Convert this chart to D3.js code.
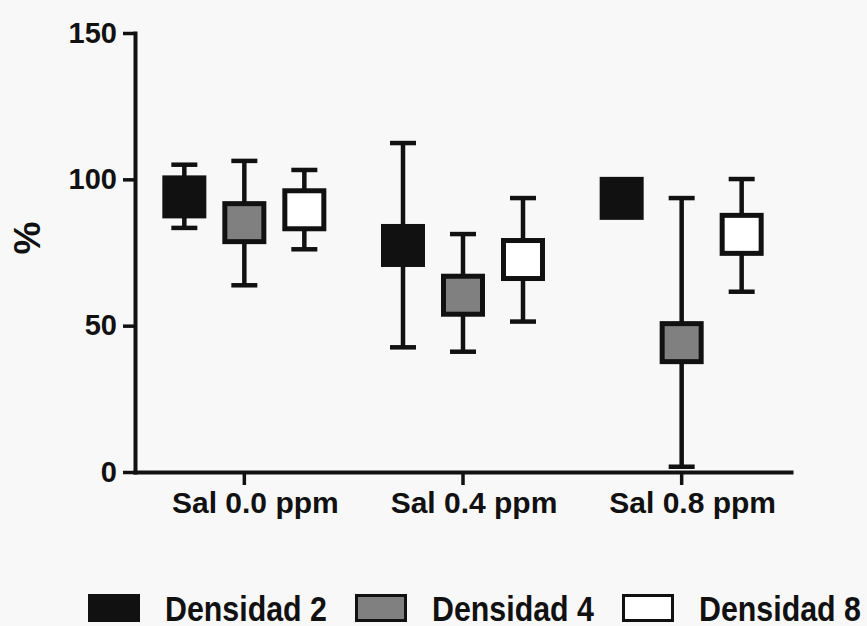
<!DOCTYPE html>
<html>
<head>
<meta charset="utf-8">
<script src="https://cdn.jsdelivr.net/npm/d3@7"></script>
<style>
  body { margin: 0; background: #f8f8f8; }
  svg { display: block; }
  text { font-family: "Liberation Sans", Arial, sans-serif; font-weight: bold; fill: #111; }
</style>
</head>
<body>
<div id="chart"></div>
<script>
// data
var groups = ["Sal 0.0 ppm", "Sal 0.4 ppm", "Sal 0.8 ppm"];
var series = ["Densidad 2", "Densidad 4", "Densidad 8"];
var fills = ["#111111", "#808080", "#ffffff"];
// mean, lower and upper end of the error bar, per series, per group
var meanD2 = [94.0, 77.4, 93.5];
var lowD2  = [83.4, 42.6, 92.0];
var highD2 = [105.0, 112.4, 95.0];
var meanD4 = [85.2, 60.4, 44.2];
var lowD4  = [63.8, 41.1, 1.8];
var highD4 = [106.3, 81.3, 93.6];
var meanD8 = [89.6, 72.6, 81.2];
var lowD8  = [76.1, 51.4, 61.6];
var highD8 = [103.2, 93.6, 100.1];
var yTicks = [0, 50, 100, 150];

var means = [meanD2, meanD4, meanD8];
var lows = [lowD2, lowD4, lowD8];
var highs = [highD2, highD4, highD8];

var width = 867, height = 626;
var plotLeft = 135, plotRight = 791, plotTop = 33, plotBottom = 472;

var svg = d3.select("#chart").append("svg")
  .attr("width", width)
  .attr("height", height);

var x = d3.scaleBand()
  .domain(groups)
  .range([plotLeft, plotRight]);

var xs = d3.scalePoint()
  .domain(series)
  .range([-60, 60]);

var y = d3.scaleLinear()
  .domain([0, 150])
  .range([plotBottom, plotTop]);

// build flat rows
var rows = [];
groups.forEach(function(g, gi) {
  series.forEach(function(s, si) {
    rows.push({group: g, series: s, si: si,
      mean: means[si][gi], low: lows[si][gi], high: highs[si][gi]});
  });
});

var marks = svg.append("g");
var cx = function(d) { return x(d.group) + x.bandwidth() / 2 + xs(d.series); };
var capW = 26, boxW = 44, boxH = 43;

// error bars
marks.selectAll(".err").data(rows).enter().append("line")
  .attr("x1", cx).attr("x2", cx)
  .attr("y1", function(d) { return y(d.low); })
  .attr("y2", function(d) { return y(d.high); })
  .attr("stroke", "#111").attr("stroke-width", 4.5);

marks.selectAll(".capHi").data(rows).enter().append("line")
  .attr("x1", function(d) { return cx(d) - capW / 2; })
  .attr("x2", function(d) { return cx(d) + capW / 2; })
  .attr("y1", function(d) { return y(d.high); })
  .attr("y2", function(d) { return y(d.high); })
  .attr("stroke", "#111").attr("stroke-width", 4.5);

marks.selectAll(".capLo").data(rows).enter().append("line")
  .attr("x1", function(d) { return cx(d) - capW / 2; })
  .attr("x2", function(d) { return cx(d) + capW / 2; })
  .attr("y1", function(d) { return y(d.low); })
  .attr("y2", function(d) { return y(d.low); })
  .attr("stroke", "#111").attr("stroke-width", 4.5);

// square symbols at the mean
marks.selectAll(".sym").data(rows).enter().append("rect")
  .attr("x", function(d) { return cx(d) - boxW / 2 + 2.5; })
  .attr("y", function(d) { return y(d.mean) - boxH / 2 + 2.5; })
  .attr("width", boxW - 5)
  .attr("height", boxH - 5)
  .attr("fill", function(d) { return fills[d.si]; })
  .attr("stroke", "#111")
  .attr("stroke-width", 5);

// axes
var yAxis = svg.append("g")
  .attr("transform", "translate(" + plotLeft + ",0)")
  .call(d3.axisLeft(y).tickValues(yTicks).tickSize(12).tickSizeOuter(0).tickPadding(6));

var xAxis = svg.append("g")
  .attr("transform", "translate(0," + plotBottom + ")")
  .call(d3.axisBottom(x).tickSize(13).tickSizeOuter(0).tickPadding(7));

[yAxis, xAxis].forEach(function(a) {
  a.select(".domain").attr("stroke", "#111").attr("stroke-width", 4).attr("stroke-linecap", "square");
  a.selectAll(".tick line").attr("stroke", "#111").attr("stroke-width", 3.5);
  a.selectAll("text").attr("fill", "#111");
});
yAxis.selectAll("text").style("font-size", "29px").style("font-family", "\"Liberation Sans\", Arial, sans-serif").style("font-weight", "bold");
xAxis.selectAll("text").style("font-size", "30px").style("font-family", "\"Liberation Sans\", Arial, sans-serif").style("font-weight", "bold").attr("dx", 11);

// y label
svg.append("text")
  .attr("transform", "translate(40,238) rotate(-90)")
  .attr("text-anchor", "middle")
  .style("font-size", "37px")
  .text("%");

// legend
var legend = svg.append("g");
var item = legend.selectAll("g").data(series).enter().append("g")
  .attr("transform", function(d, i) { return "translate(" + (88 + i * 267) + ",594)"; });
item.append("rect")
  .attr("x", 1.5).attr("y", 1.5)
  .attr("width", 49).attr("height", 25)
  .attr("fill", function(d, i) { return fills[i]; })
  .attr("stroke", "#111").attr("stroke-width", 3);
item.append("text")
  .attr("x", 77).attr("y", 27)
  .attr("textLength", 162)
  .attr("lengthAdjust", "spacingAndGlyphs")
  .style("font-size", "35px")
  .text(function(d) { return d; });
</script>
</body>
</html>
